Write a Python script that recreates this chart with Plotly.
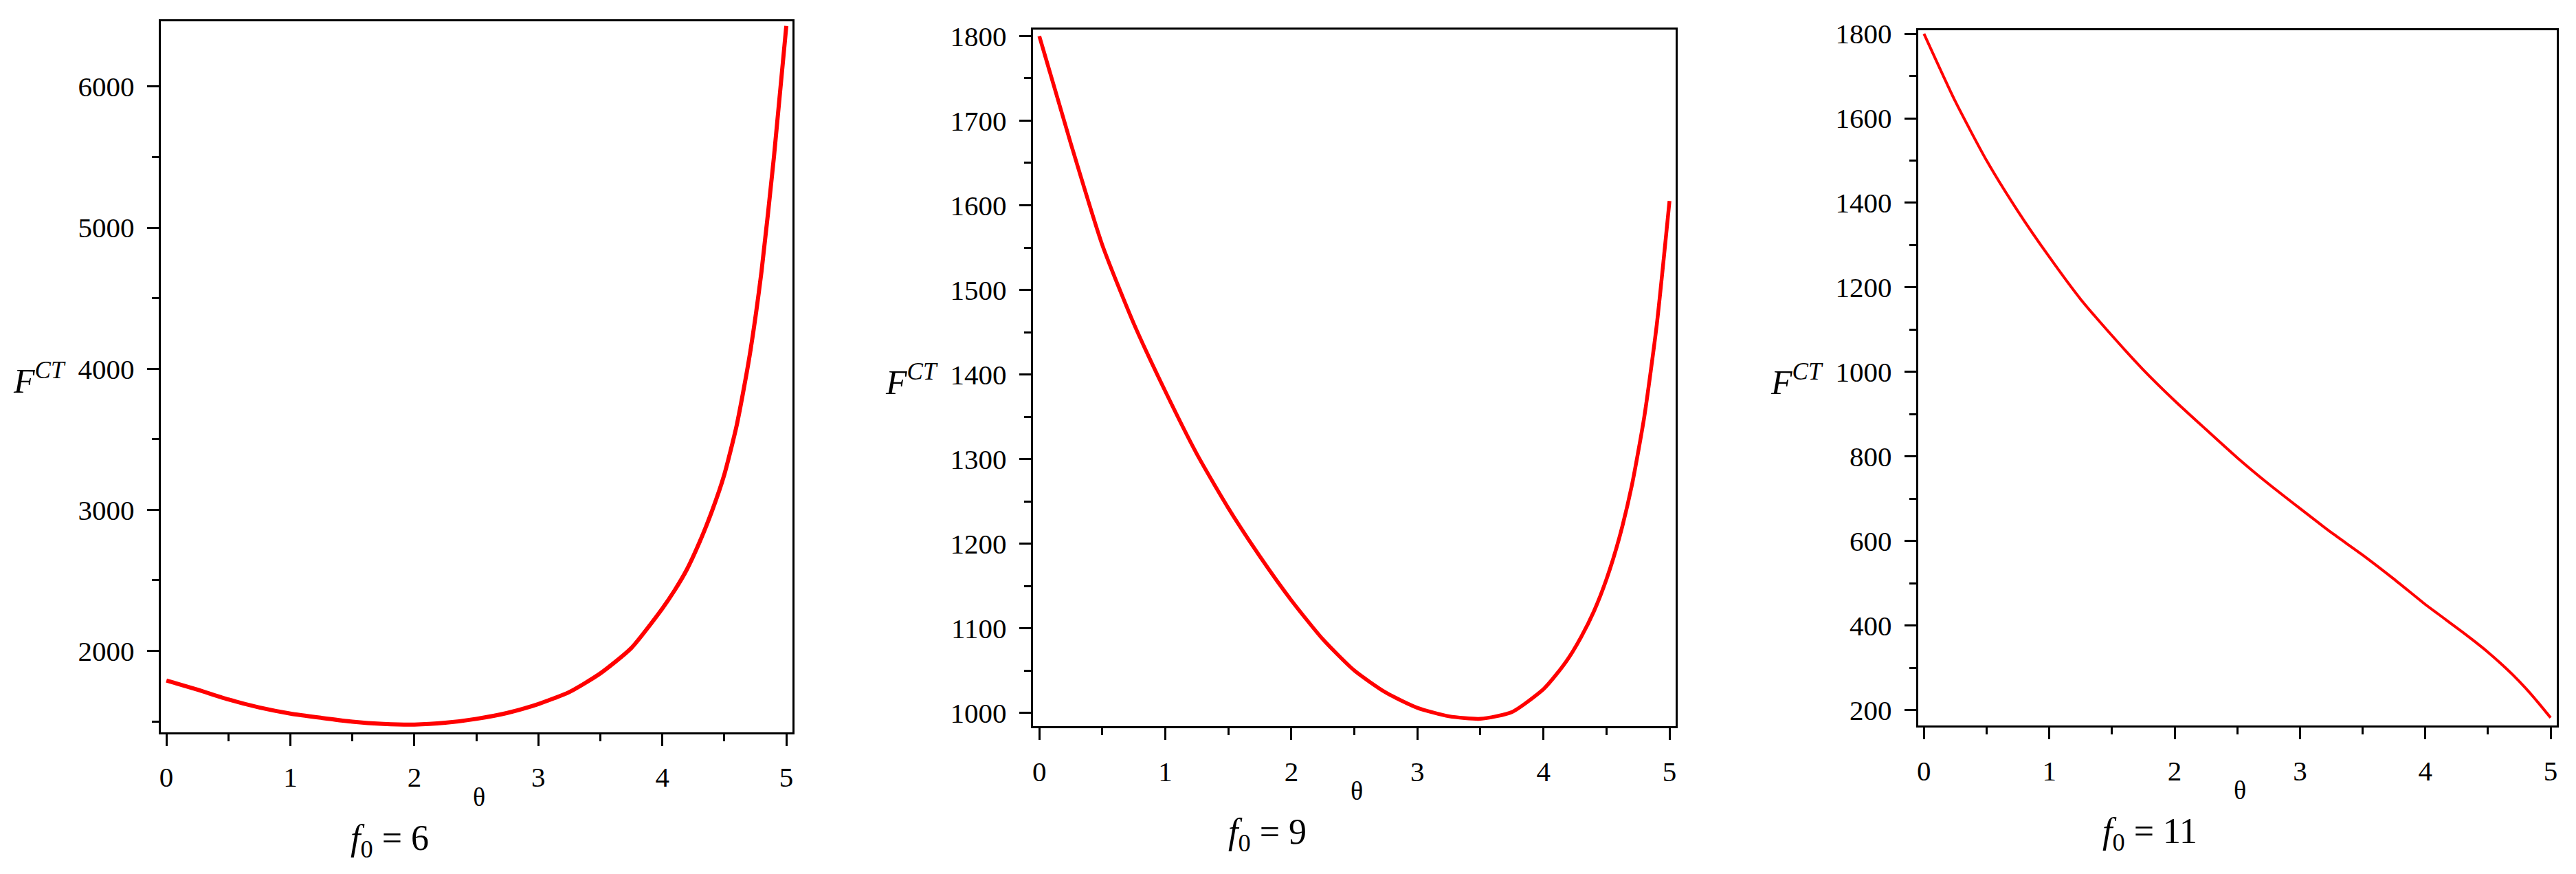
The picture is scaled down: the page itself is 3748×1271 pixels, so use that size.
import plotly.graph_objects as go

# theta grid (same for all three panels)
theta = [0, 0.25, 0.5, 0.75, 1, 1.25, 1.5, 1.75, 2, 2.25, 2.5, 2.75, 3, 3.25,
         3.5, 3.75, 4, 4.1, 4.2, 4.3, 4.4, 4.5, 4.6, 4.7, 4.8, 4.9, 5]

# F^CT for f0 = 6
f_ct_6 = [1790, 1725, 1655, 1598, 1555, 1525, 1498, 1482, 1477, 1490, 1518, 1560,
          1623, 1708, 1840, 2020, 2300, 2430, 2580, 2770, 2990, 3250, 3600,
          4070, 4690, 5500, 6430]

# F^CT for f0 = 9
f_ct_9 = [1800, 1673, 1553, 1460, 1380, 1306, 1242, 1185, 1133, 1087, 1050, 1024,
          1006, 996, 993, 1001, 1028, 1045, 1065, 1090, 1120, 1158, 1206,
          1268, 1350, 1460, 1605]

# F^CT for f0 = 11
f_ct_11 = [1800, 1640, 1500, 1380, 1272, 1172, 1086, 1005, 932, 864, 797, 735,
           677, 620, 567, 510, 450, 428, 406, 384, 361, 337, 311, 283, 252,
           218, 182]

panel_labels = ["6", "9", "11"]
x_ticks = [0, 1, 2, 3, 4, 5]

W, H = 3748, 1271
FONT = "Liberation Serif"

# frame boxes in pixels: left, right, top, bottom
frames = [(232, 1152, 14, 1065), (1502, 2438, 26, 1056), (2791, 3721, 27, 1055)]
x_ranges = [[-0.046, 5.05], [-0.051, 5.049], [-0.047, 5.049]]
y_ranges = [[1421, 6464], [984, 1808], [163, 1809]]
y_dticks = [1000, 100, 200]
line_widths = [6, 5.5, 4]
series = [f_ct_6, f_ct_9, f_ct_11]

fig = go.Figure()
annotations = []

for i, (vals, f0) in enumerate(zip(series, panel_labels)):
    n = "" if i == 0 else str(i + 1)
    left, right, top, bottom = frames[i]
    fig.add_trace(go.Scatter(
        x=theta, y=vals, mode="lines",
        line=dict(color="#ff0000", width=line_widths[i], shape="spline", smoothing=0.6),
        xaxis="x" + n, yaxis="y" + n, showlegend=False,
    ))
    axis_common = dict(
        showline=True, linecolor="black", linewidth=3, mirror=True,
        ticks="outside", ticklen=17, tickwidth=3, tickcolor="black",
        showgrid=False, zeroline=False,
        tickfont=dict(family=FONT, size=41, color="black"),
        ticklabelstandoff=10,
    )
    fig.update_layout({
        "xaxis" + n: dict(
            axis_common, domain=[left / W, right / W], range=x_ranges[i],
            anchor="y" + n, tickvals=x_ticks,
            minor=dict(ticks="outside", ticklen=10, tickwidth=3, tickcolor="black", dtick=0.5),
        ),
        "yaxis" + n: dict(
            axis_common, domain=[1 - bottom / H, 1 - top / H], range=y_ranges[i],
            anchor="x" + n, dtick=y_dticks[i],
            minor=dict(ticks="outside", ticklen=10, tickwidth=3, tickcolor="black",
                       dtick=y_dticks[i] / 2),
        ),
    })
    cx = (left + right) / 2
    annotations.append(dict(
        text="θ", x=(cx + 4) / W, y=1 - (bottom + 95) / H, xref="paper", yref="paper",
        showarrow=False, font=dict(family=FONT, size=38, color="black"),
        xanchor="center", yanchor="middle",
    ))
    annotations.append(dict(
        text="<i>f</i><sub>0</sub> = " + f0, x=(cx - 127) / W, y=1 - (bottom + 160) / H,
        xref="paper", yref="paper", showarrow=False,
        font=dict(family=FONT, size=52, color="black"),
        xanchor="center", yanchor="middle",
    ))
    annotations.append(dict(
        text="<i>F</i><sup><i>CT</i></sup>", x=(left - 136) / W,
        y=1 - ((top + bottom) / 2 + 3) / H, xref="paper", yref="paper",
        showarrow=False, font=dict(family=FONT, size=50, color="black"),
        xanchor="right", yanchor="middle",
    ))

fig.update_layout(
    width=W, height=H, autosize=False,
    margin=dict(l=0, r=0, t=0, b=0),
    paper_bgcolor="white", plot_bgcolor="white",
    annotations=annotations, showlegend=False,
)

fig.write_html("out.html", config={"displayModeBar": False},
               post_script="document.body.style.margin='0';")
